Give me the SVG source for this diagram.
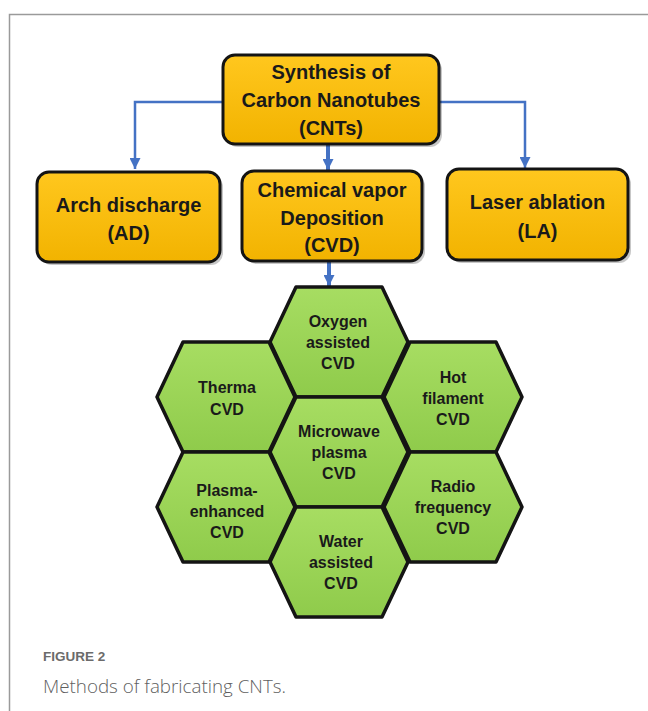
<svg xmlns="http://www.w3.org/2000/svg" xmlns:xlink="http://www.w3.org/1999/xlink" width="648" height="711" viewBox="0 0 648 711">
  <style>
    .box { fill: url(#gold); stroke: #141414; stroke-width: 3; }
    .shadow { fill: #000; opacity: 0.22; }
    .hex { fill: url(#green); stroke: #141414; stroke-width: 3.5; stroke-linejoin: round; }
    .bt { font-family: "Liberation Sans", Arial, sans-serif; font-weight: bold; font-size: 20px; fill: #1a1a1a; text-anchor: middle; }
    .ht { font-family: "Liberation Sans", Arial, sans-serif; font-weight: bold; font-size: 16px; fill: #1a1a1a; text-anchor: middle; }
    .conn { fill: none; stroke: #4472C4; stroke-width: 2.5; }
    .connw { fill: none; stroke: #4472C4; stroke-width: 4; }
    .figlabel { font-family: "Liberation Sans", Arial, sans-serif; font-weight: bold; font-size: 13.5px; fill: #6b6b6b; }
    .caption { font-family: "Open Sans", "Liberation Sans", sans-serif; font-weight: 300; font-size: 18px; fill: #5f5f5f; }
  </style>
  <defs>
    <linearGradient id="gold" x1="0" y1="0" x2="0" y2="1">
      <stop offset="0" stop-color="#FFC71E"/>
      <stop offset="1" stop-color="#F2B300"/>
    </linearGradient>
    <linearGradient id="green" x1="0" y1="0" x2="0" y2="1">
      <stop offset="0" stop-color="#A7DD62"/>
      <stop offset="1" stop-color="#8FCB4B"/>
    </linearGradient>
    <polygon id="hexshape" points="-43,-55 43,-55 69,0 43,55 -43,55 -69,0"/>
    <marker id="ah" viewBox="0 0 10 10" refX="10" refY="5" markerWidth="11" markerHeight="11" markerUnits="userSpaceOnUse" orient="auto">
      <path d="M0,0 L10,5 L0,10 z" fill="#4472C4"/>
    </marker>
  </defs>

  <rect width="648" height="711" fill="#ffffff"/>
  <path d="M9.5,711 V14.5 H648" fill="none" stroke="#9a9a9a" stroke-width="1.5"/>

  <g id="connectors">
    <path class="conn" d="M223,102 H135 V169" marker-end="url(#ah)"/>
    <path class="conn" d="M439,102 H525 V168" marker-end="url(#ah)"/>
    <path class="connw" d="M328,145 V170" marker-end="url(#ah)"/>
    <path class="connw" d="M329,262 V286" marker-end="url(#ah)"/>
  </g>

  <g id="synthesis">
    <rect class="shadow" x="226" y="58" width="216" height="89" rx="12"/>
    <rect class="box" x="223" y="55" width="216" height="89" rx="12"/>
    <text class="bt" x="331" y="79">Synthesis of</text>
    <text class="bt" x="331" y="107">Carbon Nanotubes</text>
    <text class="bt" x="331" y="135">(CNTs)</text>
  </g>

  <g id="arch">
    <rect class="shadow" x="40" y="175" width="183" height="90" rx="12"/>
    <rect class="box" x="37" y="172" width="183" height="90" rx="12"/>
    <text class="bt" x="128.5" y="212">Arch discharge</text>
    <text class="bt" x="128.5" y="240">(AD)</text>
  </g>

  <g id="cvd">
    <rect class="shadow" x="245" y="174" width="180" height="90" rx="12"/>
    <rect class="box" x="242" y="171" width="180" height="90" rx="12"/>
    <text class="bt" x="332" y="197">Chemical vapor</text>
    <text class="bt" x="332" y="225">Deposition</text>
    <text class="bt" x="332" y="252">(CVD)</text>
  </g>

  <g id="laser">
    <rect class="shadow" x="450" y="172" width="181" height="91" rx="12"/>
    <rect class="box" x="447" y="169" width="181" height="91" rx="12"/>
    <text class="bt" x="537.5" y="209">Laser ablation</text>
    <text class="bt" x="537.5" y="238">(LA)</text>
  </g>

  <g id="hex-oxygen">
    <use xlink:href="#hexshape" class="hex" x="339" y="342"/>
    <text class="ht" x="338" y="327">Oxygen</text>
    <text class="ht" x="338" y="348">assisted</text>
    <text class="ht" x="338" y="369">CVD</text>
  </g>
  <g id="hex-therma">
    <use xlink:href="#hexshape" class="hex" x="226" y="397"/>
    <text class="ht" x="227" y="393">Therma</text>
    <text class="ht" x="227" y="415">CVD</text>
  </g>
  <g id="hex-hot">
    <use xlink:href="#hexshape" class="hex" x="453" y="397"/>
    <text class="ht" x="453" y="383">Hot</text>
    <text class="ht" x="453" y="404">filament</text>
    <text class="ht" x="453" y="425">CVD</text>
  </g>
  <g id="hex-microwave">
    <use xlink:href="#hexshape" class="hex" x="339" y="452"/>
    <text class="ht" x="339" y="437">Microwave</text>
    <text class="ht" x="339" y="458">plasma</text>
    <text class="ht" x="339" y="479">CVD</text>
  </g>
  <g id="hex-plasma">
    <use xlink:href="#hexshape" class="hex" x="226" y="507"/>
    <text class="ht" x="227" y="496">Plasma-</text>
    <text class="ht" x="227" y="517">enhanced</text>
    <text class="ht" x="227" y="538">CVD</text>
  </g>
  <g id="hex-radio">
    <use xlink:href="#hexshape" class="hex" x="453" y="507"/>
    <text class="ht" x="453" y="492">Radio</text>
    <text class="ht" x="453" y="513">frequency</text>
    <text class="ht" x="453" y="534">CVD</text>
  </g>
  <g id="hex-water">
    <use xlink:href="#hexshape" class="hex" x="339" y="562"/>
    <text class="ht" x="341" y="547">Water</text>
    <text class="ht" x="341" y="568">assisted</text>
    <text class="ht" x="341" y="589">CVD</text>
  </g>

  <g id="caption">
    <text class="figlabel" x="43" y="661">FIGURE 2</text>
    <text class="caption" x="43" y="693" textLength="243" lengthAdjust="spacingAndGlyphs">Methods of fabricating CNTs.</text>
  </g>
</svg>
